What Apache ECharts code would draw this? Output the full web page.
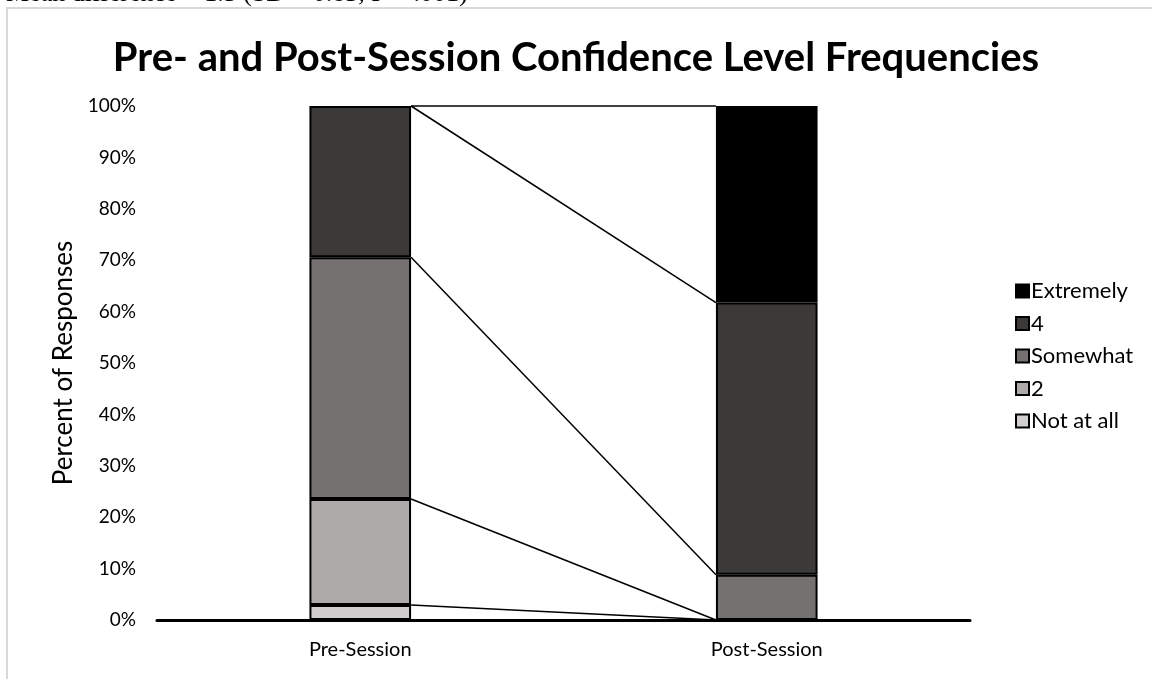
<!DOCTYPE html>
<html><head><meta charset="utf-8">
<script src="https://cdn.jsdelivr.net/npm/echarts@6/dist/echarts.min.js"></script>
<style>html,body{margin:0;padding:0;background:#fff}#c{width:1152px;height:679px}</style>
</head><body><div id="c"></div>
<script>
const categories = ['Pre-Session', 'Post-Session'];
const seriesNames = ['Not at all', '2', 'Somewhat', '4', 'Extremely'];
const notAtAll = [2.94, 0];
const two = [20.59, 0];
const somewhat = [47.06, 8.82];
const four = [29.41, 52.94];
const extremely = [0, 38.24];
const yTicks = [0, 10, 20, 30, 40, 50, 60, 70, 80, 90, 100];
const colors = ['#d0cece', '#aeaaaa', '#767171', '#3b3a39', '#000000'];

const values = [notAtAll, two, somewhat, four, extremely];
// cumulative tops for series lines
const cum = [];
let acc = [0, 0];
values.forEach(v => { acc = [acc[0] + v[0], acc[1] + v[1]]; cum.push([0, acc[0], acc[1]]); });

const FONT = 'Lato, "Open Sans", sans-serif';
const chart = echarts.init(document.getElementById('c'));
const bars = seriesNames.map((n, i) => ({
  name: n, type: 'bar', stack: 'total', data: values[i].map(v => v === 0 ? '-' : v), barWidth: '25%',
  itemStyle: { color: colors[i], borderColor: '#000', borderWidth: 2 },
  z: 3
}));
chart.setOption({
  animation: false,
  title: {
    text: 'Pre- and Post-Session Confidence Level Frequencies',
    left: 'center', top: 33,
    textStyle: { fontFamily: FONT, fontSize: 40, fontWeight: 'bold', color: '#000' }
  },
  graphic: [
    { type: 'rect', shape: { x: 7, y: 8, width: 1300, height: 800 }, style: { fill: 'none', stroke: '#d9d9d9', lineWidth: 2 }, z: -1 },
    { type: 'text', x: 6, y: 7, style: { text: 'Mean difference = 1.5 (SD = 0.83, P < .001)', font: '26px "Liberation Serif", serif', fill: '#000', verticalAlign: 'bottom' } }
  ],
  legend: {
    orient: 'vertical', left: 1010, top: 275,
    data: seriesNames.slice().reverse(),
    itemWidth: 13, itemHeight: 13, itemGap: 10.5,
    textStyle: { fontFamily: FONT, fontSize: 22, color: '#000', padding: [0, 0, 0, -3] },
    icon: 'rect'
  },
  grid: { left: 157, right: 182, top: 106, bottom: 59, containLabel: false },
  xAxis: {
    type: 'category', data: categories,
    axisLine: { lineStyle: { color: '#000', width: 3 } },
    axisTick: { show: false },
    axisLabel: { fontFamily: FONT, fontSize: 20, color: '#000', margin: 20 }
  },
  yAxis: {
    type: 'value', min: 0, max: 100, interval: 10,
    name: 'Percent of Responses', nameLocation: 'middle', nameGap: 80,
    nameTextStyle: { fontFamily: FONT, fontSize: 26, color: '#000' },
    axisLine: { show: false }, axisTick: { show: false }, splitLine: { show: false },
    axisLabel: { fontFamily: FONT, fontSize: 19, color: '#000', margin: 21,
      formatter: v => yTicks.includes(v) ? v + '%' : '' }
  },
  series: bars.concat([{
    type: 'custom', name: 'lines', data: cum, encode: { x: 0, y: [1, 2] }, z: 2,
    silent: true,
    renderItem: (params, api) => {
      const p1 = api.coord([0, api.value(1)]);
      const p2 = api.coord([1, api.value(2)]);
      const hw = api.size([1, 0])[0] * 0.125;
      return { type: 'line', shape: { x1: p1[0] + hw, y1: p1[1], x2: p2[0] - hw, y2: p2[1] },
        style: { stroke: '#000', lineWidth: 1.5 } };
    }
  }])
});
</script></body></html>
